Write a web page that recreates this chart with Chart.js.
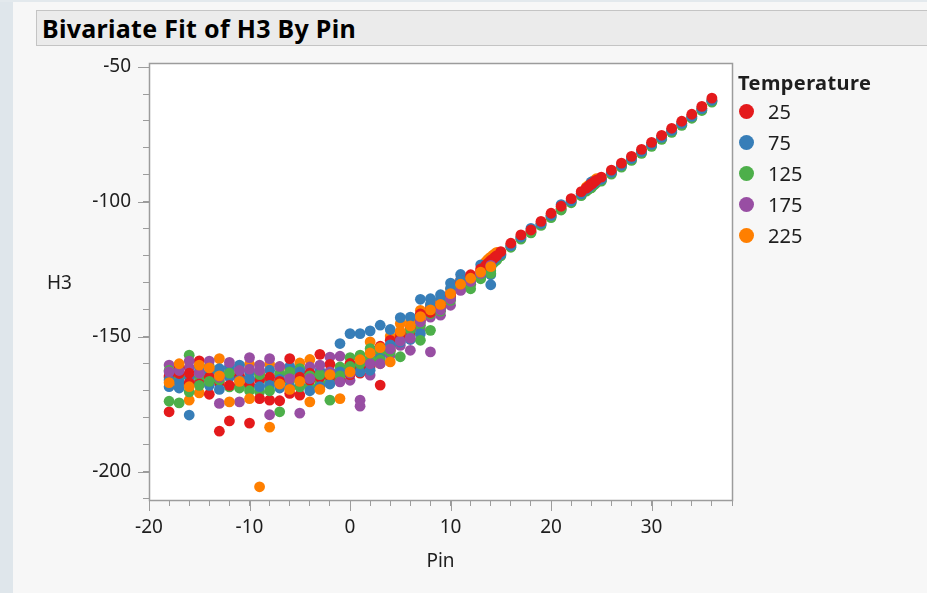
<!DOCTYPE html>
<html>
<head>
<meta charset="utf-8">
<script src="https://cdn.jsdelivr.net/npm/chart.js@4.4.1/dist/chart.umd.min.js"></script>
<style>
  html, body { margin: 0; padding: 0; }
  body {
    width: 927px; height: 593px; position: relative; overflow: hidden;
    background: #f7f7f7; font-family: "Noto Sans", "DejaVu Sans", sans-serif; color: #1e1e1e;
  }
  #sideStrip { position: absolute; left: 0; top: 0; width: 13px; height: 593px; background: #dfe6eb; }
  #topStrip { position: absolute; left: 0; top: 0; width: 927px; height: 2px; background: #e3e9ed; }
  #titleBar {
    position: absolute; left: 36px; top: 10px; width: 900px; height: 36px;
    background: #ebebeb; border: 1px solid #c4c4c4; box-sizing: border-box;
  }
  #titleBar span {
    position: absolute; left: 5px; top: 0px; font-size: 25px; font-weight: bold; line-height: 34px;
    letter-spacing: 0.3px; color: #000; white-space: nowrap;
  }
  #chart { position: absolute; left: 0; top: 0; }
  #yTitle { position: absolute; left: 47px; top: 271px; font-size: 19px; line-height: 23px; }
  #legend { position: absolute; left: 738px; top: 69px; }
  #legend .head { font-weight: bold; font-size: 20px; line-height: 27px; white-space: nowrap; letter-spacing: 0.4px; }
  #legend .item { position: relative; height: 31px; font-size: 20px; line-height: 31px; padding-left: 30px; }
  #legend .dot { position: absolute; left: 1px; top: 8px; width: 15px; height: 15px; border-radius: 50%; }
</style>
</head>
<body>
<div id="sideStrip"></div>
<div id="topStrip"></div>
<div id="titleBar"><span>Bivariate Fit of H3 By Pin</span></div>
<canvas id="chart" width="927" height="593"></canvas>
<div id="yTitle">H3</div>
<div id="legend"></div>
<script>
// Pin positions measured on every temperature
const pins = [-18, -17, -16, -15, -14, -13, -12, -11, -10, -9, -8, -7, -6, -5, -4, -3, -2, -1,
  0, 1, 2, 3, 4, 5, 6, 7, 8, 9, 10, 11, 12, 13, 14, 15, 16, 17, 18, 19, 20, 21, 22, 23, 24,
  25, 26, 27, 28, 29, 30, 31, 32, 33, 34, 35, 36];
// Second unit, measured only up to Pin 14
const pinsRep = [-18, -17, -16, -15, -14, -13, -12, -11, -10, -9, -8, -7, -6, -5, -4, -3, -2, -1,
  0, 1, 2, 3, 4, 5, 6, 7, 8, 9, 10, 11, 12, 13, 14];
// Fine sweep points around two Pin settings
const pinsFine = [13.5, 13.7, 13.9, 14.2, 14.4, 14.6, 23.5, 23.7, 23.9, 24.1, 24.3, 24.5];

const temperatures = ['25', '75', '125', '175', '225'];

// H3 readings, Temperature 25
const h3_25 = [-164.5, -163.6, -167.1, -158.9, -171.3, -185.0, -181.2, -167.9, -167.6, -172.9, -173.5,
  -173.7, -158.1, -171.6, -166.1, -156.5, -160.2, -163.6, -159.9, -161.5, -158.5, -153.5, -151.3,
  -148.5, -146.5, -141.5, -139.5, -137.7, -134.0, -129.1, -127.0, -124.8, -121.7, -118.4, -115.3,
  -112.2, -110.4, -107.2, -104.2, -101.6, -98.8, -96.2, -93.3, -90.8, -88.2, -85.6, -83.1, -80.5,
  -77.9, -75.3, -72.7, -70.1, -67.5, -64.6, -61.5];
const h3_25_rep = [-177.8, -161.5, -163.5, -167.5, -165.0, -167.0, -168.0, -164.5, -182.0, -166.0,
  -165.0, -166.5, -171.0, -165.0, -163.5, -165.0, -164.5, -166.0, -164.0, -163.5, -161.0, -167.9,
  -155.0, -150.0, -148.0, -144.0, -141.0, -138.5, -134.8, -130.0, -127.8, -125.5, -122.5];
const h3_25_fine = [-123.5, -122.8, -122.2, -121.2, -120.5, -119.9, -94.9, -94.3, -93.7, -93.1, -92.5, -91.9];

// H3 readings, Temperature 75
const h3_75 = [-168.5, -166.8, -165.0, -163.0, -163.5, -161.8, -165.0, -160.5, -163.0, -165.8, -162.4,
  -165.8, -161.0, -163.0, -163.5, -162.6, -162.9, -152.5, -148.8, -148.8, -147.8, -145.7, -147.3,
  -142.9, -142.7, -136.1, -135.9, -134.4, -130.1, -126.9, -128.0, -123.3, -127.0, -119.5, -116.2,
  -113.0, -109.8, -108.0, -105.0, -101.0, -99.6, -97.0, -92.6, -91.6, -89.0, -86.4, -83.9, -81.3,
  -78.7, -76.1, -73.5, -70.9, -68.3, -65.4, -62.3];
const h3_75_rep = [-166.0, -169.0, -179.0, -161.0, -168.0, -169.5, -161.0, -166.0, -165.5, -168.5,
  -168.0, -169.0, -168.5, -168.0, -170.0, -168.5, -167.5, -163.0, -162.1, -163.0, -162.4, -158.0,
  -153.0, -152.0, -151.0, -148.8, -138.0, -136.0, -132.0, -129.0, -129.5, -127.0, -130.7];
const h3_75_fine = [-124.0, -123.4, -122.8, -121.8, -121.1, -120.5, -95.3, -94.7, -94.1, -93.5, -92.9, -92.3];

// H3 readings, Temperature 125
const h3_125 = [-162.5, -165.0, -156.8, -164.9, -160.9, -163.0, -168.6, -164.9, -168.5, -170.4, -167.1,
  -163.6, -166.3, -161.8, -168.3, -167.1, -166.1, -161.2, -157.7, -156.8, -154.4, -155.5, -153.6,
  -150.7, -149.4, -145.7, -141.4, -139.5, -135.5, -132.5, -132.2, -127.9, -125.5, -120.0, -116.8,
  -113.8, -111.5, -108.7, -105.8, -103.0, -100.3, -97.7, -94.8, -92.3, -89.7, -87.1, -84.6, -82.0,
  -79.4, -76.8, -74.2, -71.6, -69.0, -66.1, -63.0];
const h3_125_rep = [-173.9, -174.5, -170.4, -168.0, -166.5, -166.0, -163.5, -169.0, -170.0, -164.0,
  -170.0, -177.8, -163.0, -168.6, -164.5, -164.0, -173.5, -164.5, -161.0, -160.0, -158.0, -158.5,
  -155.5, -157.4, -147.5, -151.3, -147.6, -140.5, -136.5, -131.5, -130.5, -128.5, -126.5];
const h3_125_fine = [-125.0, -124.4, -123.8, -122.8, -122.1, -121.5, -96.0, -95.4, -94.8, -94.2, -93.6, -93.0];

// H3 readings, Temperature 175
const h3_175 = [-160.5, -165.1, -161.4, -166.5, -163.0, -174.7, -161.8, -174.1, -157.7, -160.5, -158.1,
  -164.2, -163.6, -164.9, -161.2, -164.9, -157.5, -157.2, -166.1, -173.5, -164.2, -157.0, -156.8,
  -153.2, -155.0, -147.0, -142.7, -142.0, -138.3, -131.5, -130.5, -127.5, -124.5, -119.6, -116.5,
  -113.4, -111.2, -108.4, -105.4, -102.8, -100.0, -97.4, -94.5, -92.0, -89.4, -86.8, -84.3, -81.7,
  -79.1, -76.5, -73.9, -71.3, -68.7, -65.8, -62.7];
const h3_175_rep = [-163.0, -162.5, -159.0, -163.5, -159.0, -165.0, -159.5, -162.5, -162.0, -162.5,
  -178.9, -161.0, -165.5, -178.3, -165.5, -160.5, -163.0, -166.7, -163.5, -175.7, -160.0, -160.0,
  -154.5, -151.5, -150.5, -144.5, -155.6, -140.0, -136.0, -132.8, -129.5, -126.5, -123.5];
const h3_175_fine = [-124.5, -123.9, -123.3, -122.3, -121.6, -121.0, -95.6, -95.0, -94.4, -93.8, -93.2, -92.6];

// H3 readings, Temperature 225
const h3_225 = [-165.1, -167.9, -173.5, -170.8, -165.0, -158.1, -163.6, -162.1, -160.2, -163.6, -160.2,
  -161.2, -162.0, -159.7, -158.4, -163.6, -167.1, -164.9, -160.2, -161.1, -151.9, -159.9, -149.7,
  -145.1, -144.5, -140.2, -138.3, -136.5, -132.5, -131.6, -129.0, -127.9, -123.0, -119.0, -115.9,
  -112.9, -110.9, -107.9, -104.9, -102.3, -99.5, -96.9, -94.0, -91.5, -88.9, -86.3, -83.8, -81.2,
  -78.6, -76.0, -73.4, -70.8, -68.2, -65.3, -62.2];
const h3_225_rep = [-167.0, -160.0, -168.5, -160.5, -161.5, -164.5, -174.1, -166.5, -172.9, -205.6,
  -183.5, -167.5, -169.5, -166.5, -174.1, -169.5, -164.0, -172.9, -163.0, -158.5, -156.0, -154.0,
  -159.3, -148.0, -146.0, -142.5, -140.0, -138.0, -134.0, -130.5, -128.3, -126.0, -124.0];
const h3_225_fine = [-122.2, -121.4, -120.7, -119.8, -119.2, -118.7, -94.5, -93.9, -93.2, -92.6, -92.0, -91.4];

const seriesColors = ['#e41a1c', '#377eb8', '#4daf4a', '#984ea3', '#ff7f00'];

const seriesValues = [
  [h3_25, h3_25_rep, h3_25_fine],
  [h3_75, h3_75_rep, h3_75_fine],
  [h3_125, h3_125_rep, h3_125_fine],
  [h3_175, h3_175_rep, h3_175_fine],
  [h3_225, h3_225_rep, h3_225_fine]
];

function toPoints(xs, ys) {
  return xs.map((x, i) => ({ x: x, y: ys[i] })).filter(p => p.y !== null && p.y !== undefined);
}

// First unit plus fine sweep: 25 drawn on top. Second unit: 225 drawn on top.
const datasets = [];
temperatures.forEach((t, i) => {
  const [main, rep, fine] = seriesValues[i];
  const common = {
    label: t, backgroundColor: seriesColors[i], borderWidth: 0,
    pointRadius: 5.4, pointHoverRadius: 5.4
  };
  datasets.push(Object.assign({}, common, {
    data: toPoints(pins, main).concat(toPoints(pinsFine, fine)), order: 10 + i
  }));
  datasets.push(Object.assign({}, common, {
    data: toPoints(pinsRep, rep), order: 9 - i
  }));
});

const axisGray = '#9c9c9c';
const labelFont = { family: 'Noto Sans', size: 19 };

// white plot box with a grey frame, plus the longer major tick marks
const plotFrame = {
  id: 'plotFrame',
  beforeDraw(chart) {
    const { ctx, chartArea: a } = chart;
    ctx.save();
    ctx.fillStyle = '#ffffff';
    ctx.fillRect(a.left, a.top, a.right - a.left, a.bottom - a.top);
    ctx.restore();
  },
  afterDraw(chart) {
    const { ctx, chartArea: a, scales } = chart;
    ctx.save();
    ctx.strokeStyle = axisGray;
    ctx.lineWidth = 1.5;
    ctx.strokeRect(a.left + 0.5, a.top + 0.5, a.right - a.left, a.bottom - a.top);
    ctx.lineWidth = 1;
    ctx.beginPath();
    scales.x.ticks.forEach(t => {
      if (t.value % 10 === 0) {
        const px = Math.round(scales.x.getPixelForValue(t.value)) + 0.5;
        ctx.moveTo(px, a.bottom);
        ctx.lineTo(px, a.bottom + 11);
      }
    });
    scales.y.ticks.forEach(t => {
      if (t.value % 50 === 0) {
        const py = Math.round(scales.y.getPixelForValue(t.value)) + 0.5;
        ctx.moveTo(a.left - 11, py);
        ctx.lineTo(a.left, py);
      }
    });
    ctx.stroke();
    ctx.restore();
  }
};

const chart = new Chart(document.getElementById('chart'), {
  type: 'scatter',
  data: { datasets: datasets },
  plugins: [plotFrame],
  options: {
    responsive: false,
    animation: false,
    devicePixelRatio: 1,
    layout: { padding: { left: 0, top: 63, right: 195, bottom: 0 } },
    plugins: { legend: { display: false }, tooltip: { enabled: false } },
    scales: {
      x: {
        type: 'linear', min: -20, max: 38,
        afterFit: s => { s.height = 93; },
        ticks: {
          stepSize: 2, includeBounds: false, autoSkip: false, maxRotation: 0, padding: 10,
          color: '#1e1e1e', font: labelFont,
          callback: v => (v % 10 === 0 ? String(v) : '')
        },
        grid: { drawOnChartArea: false, drawTicks: true, tickLength: 6, color: axisGray, tickColor: axisGray },
        border: { display: true, color: axisGray, width: 1 },
        title: { display: true, text: 'Pin', color: '#1e1e1e', font: labelFont, padding: { top: 0, bottom: 20 } }
      },
      y: {
        type: 'linear', min: -210.5, max: -48.5,
        afterFit: s => { s.width = 149; },
        ticks: {
          stepSize: 10, includeBounds: false, autoSkip: false, padding: 12,
          color: '#1e1e1e', font: labelFont,
          callback: v => (v % 50 === 0 ? String(v) : '')
        },
        grid: { drawOnChartArea: false, drawTicks: true, tickLength: 6, color: axisGray, tickColor: axisGray },
        border: { display: true, color: axisGray, width: 1 }
      }
    }
  }
});

// legend: one entry per temperature, coloured like its points
const legend = document.getElementById('legend');
const head = document.createElement('div');
head.className = 'head';
head.textContent = 'Temperature';
legend.appendChild(head);
temperatures.forEach((t, i) => {
  const item = document.createElement('div');
  item.className = 'item';
  const dot = document.createElement('span');
  dot.className = 'dot';
  dot.style.background = seriesColors[i];
  item.appendChild(dot);
  item.appendChild(document.createTextNode(t));
  legend.appendChild(item);
});
</script>
</body>
</html>
